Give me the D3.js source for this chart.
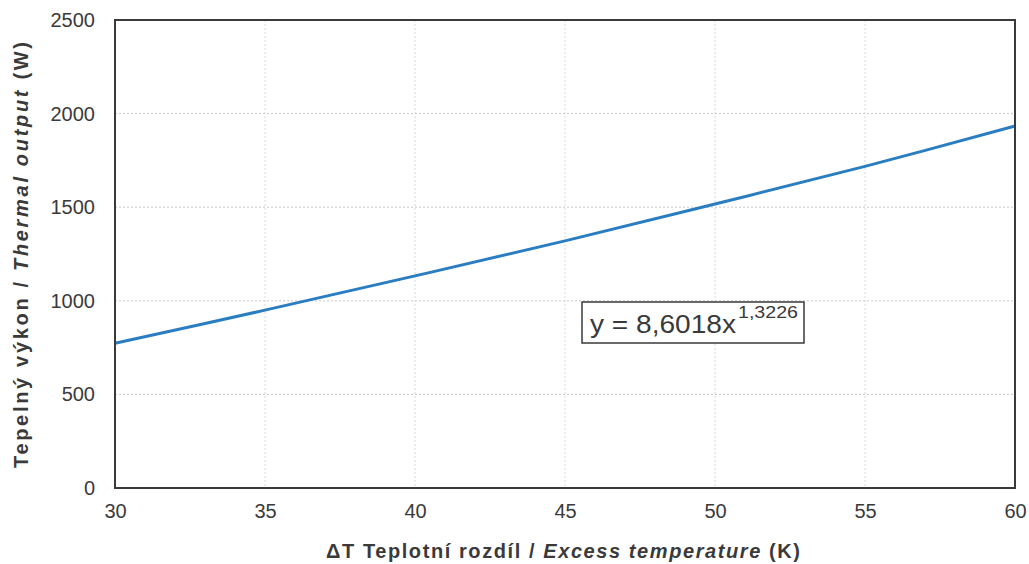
<!DOCTYPE html>
<html lang="en">
<head>
<meta charset="utf-8">
<title>Thermal output</title>
<script src="https://d3js.org/d3.v7.min.js"></script>
<style>
  body { margin: 0; background: #fff; }
  text { font-family: "Liberation Sans", Arial, sans-serif; fill: #3a3a3a; }
  .title { font-size: 20px; font-weight: bold; }
</style>
</head>
<body>
<svg id="chart" width="1029" height="564"></svg>
<script>
// values
const deltaT = [30, 35, 40, 45, 50, 55, 60];
const output = [773, 950, 1133, 1320, 1517, 1718, 1934];
const xTicks = [30, 35, 40, 45, 50, 55, 60];
const yTicks = [0, 500, 1000, 1500, 2000, 2500];
const equation = { base: "y = 8,6018x", exp: "1,3226" };

const svg = d3.select("#chart");
const m = { left: 115, right: 1015, top: 20, bottom: 488 };

const x = d3.scaleLinear().domain([30, 60]).range([m.left, m.right]);
const y = d3.scaleLinear().domain([0, 2500]).range([m.bottom, m.top]);

// gridlines
svg.append("g").selectAll("line").data(yTicks.slice(1, -1)).join("line")
  .attr("x1", m.left).attr("x2", m.right)
  .attr("y1", d => y(d)).attr("y2", d => y(d))
  .attr("stroke", "#c8c8c8").attr("stroke-dasharray", "2,2");
svg.append("g").selectAll("line").data(xTicks.slice(1, -1)).join("line")
  .attr("y1", m.top).attr("y2", m.bottom)
  .attr("x1", d => x(d)).attr("x2", d => x(d))
  .attr("stroke", "#d8d8d8").attr("stroke-dasharray", "2,2");

// axes (labels only)
const xAxis = svg.append("g").attr("transform", `translate(0,${m.bottom})`)
  .call(d3.axisBottom(x).tickValues(xTicks).tickFormat(d3.format("d")).tickSize(0).tickPadding(16));
const yAxis = svg.append("g").attr("transform", `translate(${m.left},0)`)
  .call(d3.axisLeft(y).tickValues(yTicks).tickFormat(d3.format("d")).tickSize(0).tickPadding(20));
[xAxis, yAxis].forEach(a => {
  a.select(".domain").remove();
  a.attr("font-size", 20).attr("font-family", null);
  a.selectAll(".tick text").attr("fill", "#444");
});

// line
const line = d3.line().x((d, i) => x(deltaT[i])).y(d => y(d)).curve(d3.curveCatmullRom);
svg.append("path").datum(output)
  .attr("d", line)
  .attr("fill", "none")
  .attr("stroke", "#2a7dc0")
  .attr("stroke-width", 3);

// frame
svg.append("rect")
  .attr("x", m.left).attr("y", m.top)
  .attr("width", m.right - m.left).attr("height", m.bottom - m.top)
  .attr("fill", "none").attr("stroke", "#3a3a3a").attr("stroke-width", 2);

// equation box
const eq = svg.append("g").attr("transform", "translate(582,302)");
eq.append("rect").attr("x", 0).attr("y", 0).attr("width", 222).attr("height", 41)
  .attr("fill", "#fff").attr("stroke", "#3a3a3a").attr("stroke-width", 1.5);
eq.append("text").attr("x", 8).attr("y", 31).style("font-size", "25px")
  .attr("textLength", 146).attr("lengthAdjust", "spacingAndGlyphs").text(equation.base);
eq.append("text").attr("x", 156).attr("y", 16).style("font-size", "16px")
  .attr("textLength", 60).attr("lengthAdjust", "spacingAndGlyphs").text(equation.exp);

// axis titles
const xt = svg.append("text").attr("class", "title")
  .attr("x", 326).attr("y", 558)
  .attr("textLength", 474).attr("lengthAdjust", "spacing");
xt.append("tspan").text("\u0394T Teplotní rozdíl / ");
xt.append("tspan").style("font-style", "italic").text("Excess temperature");
xt.append("tspan").text(" (K)");

const yt = svg.append("text").attr("class", "title")
  .attr("transform", "translate(28,468) rotate(-90)")
  .attr("textLength", 426).attr("lengthAdjust", "spacing");
yt.append("tspan").text("Tepelný výkon / ");
yt.append("tspan").style("font-style", "italic").text("Thermal output");
yt.append("tspan").text(" (W)");
</script>
</body>
</html>
